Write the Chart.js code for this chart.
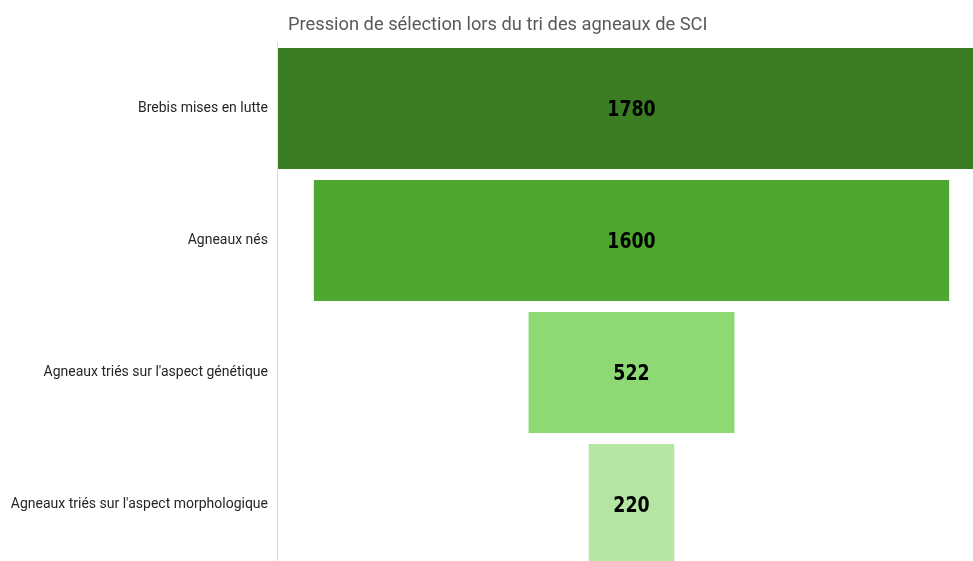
<!DOCTYPE html>
<html>
<head>
<meta charset="utf-8">
<script src="https://cdn.jsdelivr.net/npm/chart.js@4"></script>
<style>
html,body{margin:0;padding:0;overflow:hidden;background:#fff;width:973px;height:561px;}
#wrap{position:absolute;left:0;top:0;width:990px;height:575px;}
#c{display:block;width:990px;height:575px;}
</style>
</head>
<body>
<div id="wrap"><canvas id="c" width="990" height="575"></canvas></div>
<script>
const titleText = "Pression de sélection lors du tri des agneaux de SCI";
const categories = ["Brebis mises en lutte", "Agneaux nés", "Agneaux triés sur l'aspect génétique", "Agneaux triés sur l'aspect morphologique"];
const values = [1780, 1600, 522, 220];
const colors = ["#3B7D23", "#4EA72E", "#8ED973", "#B4E5A2"];

const maxVal = Math.max(...values);

const titlePlugin = {
  id: 'customTitle',
  afterDraw(chart) {
    const ctx = chart.ctx;
    ctx.save();
    ctx.font = '18.3px Roboto';
    ctx.fillStyle = '#595959';
    ctx.textAlign = 'left';
    ctx.textBaseline = 'middle';
    ctx.fillText(titleText, 288, 25);
    ctx.restore();
  }
};

const labelPlugin = {
  id: 'barLabels',
  afterDatasetsDraw(chart) {
    const ctx = chart.ctx;
    const meta = chart.getDatasetMeta(0);
    meta.data.forEach((bar, i) => {
      const p = bar.getProps(['x', 'base', 'y'], true);
      const cx = (p.x + p.base) / 2;
      ctx.save();
      ctx.font = 'bold 21px "DejaVu Sans Condensed", "DejaVu Sans", sans-serif';
      ctx.fillStyle = '#000000';
      ctx.textAlign = 'center';
      ctx.textBaseline = 'middle';
      ctx.translate(cx, p.y + 2);
      ctx.scale(0.92, 1);
      ctx.fillText(String(values[i]), 0, 0);
      ctx.restore();
    });
  }
};

new Chart(document.getElementById('c'), {
  type: 'bar',
  data: {
    labels: categories,
    datasets: [{
      data: values.map(v => [-v / 2, v / 2]),
      backgroundColor: colors,
      borderColor: 'rgba(255,255,255,0.35)',
      borderWidth: 1,
      borderSkipped: false,
      categoryPercentage: 1,
      barPercentage: 0.932
    }]
  },
  options: {
    indexAxis: 'y',
    responsive: false,
    maintainAspectRatio: false,
    animation: false,
    devicePixelRatio: 1,
    layout: { padding: { top: 42.5, right: 4, bottom: 4.5, left: 0 } },
    plugins: { legend: { display: false }, title: { display: false }, tooltip: { enabled: false } },
    scales: {
      x: { display: false, min: -maxVal / 2, max: maxVal / 2 },
      y: {
        grid: { display: false, drawTicks: false },
        border: { display: true, color: '#d9d9d9', width: 1 },
        ticks: { font: { family: 'Roboto', size: 14 }, color: '#262626', padding: 9 },
        afterFit(scale) { scale.width = 277; scale.paddingTop = 0; scale.paddingBottom = 0; }
      }
    }
  },
  plugins: [titlePlugin, labelPlugin]
});
</script>
</body>
</html>
